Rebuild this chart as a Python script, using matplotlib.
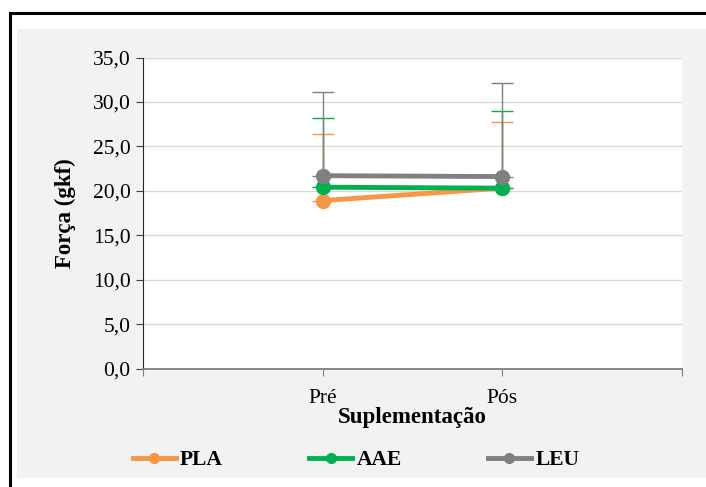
import matplotlib.pyplot as plt
from matplotlib.lines import Line2D
from matplotlib.patches import Rectangle

momentos = ["Pré", "Pós"]
pla = [18.9, 20.3]
aae = [20.4, 20.3]
leu = [21.7, 21.6]
pla_dp = [7.5, 7.4]
aae_dp = [7.8, 8.7]
leu_dp = [9.4, 10.5]

cores = {"PLA": "#F79646", "AAE": "#00B050", "LEU": "#808080"}

plt.rcParams['font.family'] = ['Liberation Serif', 'DejaVu Serif']

W, H = 706, 487
fig = plt.figure(figsize=(W / 100, H / 100), dpi=100)
fig.patch.set_facecolor("white")

# fundo cinza da área do gráfico
fig.patches.append(Rectangle((17 / W, 1 - 478 / H), (W - 17) / W, (478 - 29) / H,
                             transform=fig.transFigure, facecolor="#F2F2F2",
                             edgecolor="none", zorder=-10))
# moldura preta
fig.lines.append(Line2D([9.5 / W, 1], [1 - 13 / H, 1 - 13 / H], transform=fig.transFigure,
                        color="black", lw=2.2))
fig.lines.append(Line2D([9.5 / W, 9.5 / W], [0, 1 - 13 / H], transform=fig.transFigure,
                        color="black", lw=2.2))

ax = fig.add_axes([143 / W, 1 - 368.5 / H, (682 - 143) / W, (368.5 - 57.5) / H])
ax.set_facecolor("white")

x = [1, 2]
series = [("PLA", pla, pla_dp), ("AAE", aae, aae_dp), ("LEU", leu, leu_dp)]
for nome, vals, dp in series:
    ax.errorbar(x, vals, yerr=[[0, 0], dp], fmt="none", ecolor=cores[nome],
                elinewidth=1, capsize=8, capthick=1, zorder=2)
handles = []
for nome, vals, dp in series:
    ax.plot(x, vals, color=cores[nome], lw=3.5, marker="o", markersize=10,
            label=nome, zorder=3)
    handles.append(Line2D([], [], color=cores[nome], lw=3.5, marker="o", markersize=7))

ax.set_xlim(0, 3)
ax.set_ylim(0, 35)
ax.set_yticks(range(0, 36, 5))
ax.set_yticklabels([f"{v:.1f}".replace(".", ",") for v in range(0, 36, 5)], fontsize=15.5)
ax.set_xticks([0, 1, 2, 3])
ax.set_xticklabels(["", momentos[0], momentos[1], ""], fontsize=15.5)
ax.tick_params(axis="x", length=5, color="#7F7F7F", pad=10)
ax.tick_params(axis="y", length=5, color="#404040", pad=4)
ax.grid(axis="y", color="#D9D9D9", lw=1)
ax.set_axisbelow(True)
for s in ["top", "right"]:
    ax.spines[s].set_visible(False)
ax.spines["left"].set_color("#262626")
ax.spines["bottom"].set_color("#7F7F7F")
ax.spines["bottom"].set_linewidth(1.3)

ax.set_xlabel("Suplementação", fontsize=16.5, fontweight="bold", labelpad=-1)
ax.set_ylabel("Força (gkf)", fontsize=16.5, fontweight="bold", labelpad=12)

fig.legend(handles, ["PLA", "AAE", "LEU"], loc="center", bbox_to_anchor=(356 / W, 1 - 460 / H),
           ncol=3, frameon=False, handlelength=2.0, handletextpad=0.2, columnspacing=4.0,
           prop={"size": 15.5, "weight": "bold"})

fig.savefig("out.png", dpi=100)
